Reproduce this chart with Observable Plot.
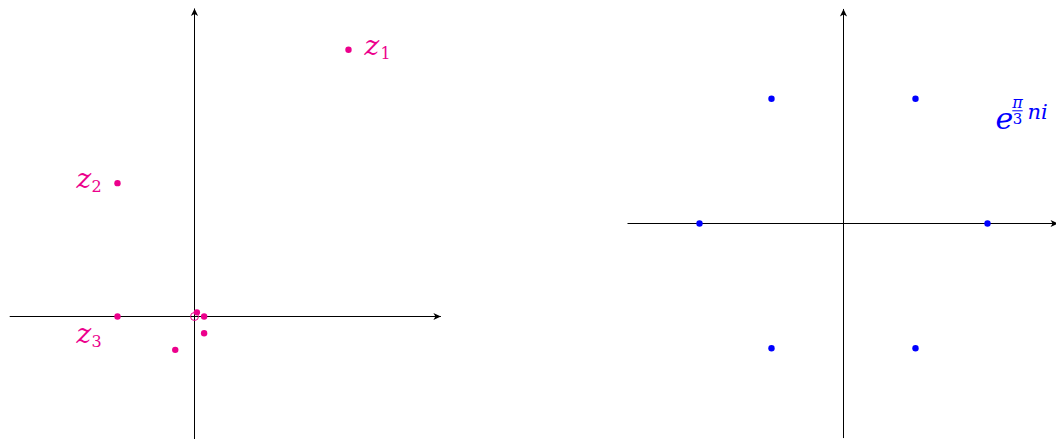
<!DOCTYPE html>
<html>
<head>
<meta charset="utf-8">
<script src="https://cdn.jsdelivr.net/npm/d3@7"></script>
<script src="https://cdn.jsdelivr.net/npm/@observablehq/plot@0.6"></script>
<style>
  html, body { margin: 0; padding: 0; background: #fff; }
  #wrap { display: flex; width: 1056px; height: 439px; overflow: hidden; }
  #wrap svg { display: block; flex: none; }
</style>
</head>
<body>
<div id="wrap"></div>
<script>
// ---- Data: left panel (sequence z_n) ----
const seqNames = ["z1", "z2", "z3", "z4", "z5", "z6", "z7"];
const seqRe = [2, -1, -1, -0.25, 0.125, 0.125, 0.031];
const seqIm = [3.464, 1.732, 0, -0.433, -0.217, 0, 0.054];
const limitRe = [0];
const limitIm = [0];
const leftLabelBase = ["z", "z", "z"];
const leftLabelSub = ["1", "2", "3"];
const leftAxisX = [-2.4, 3.2];
const leftAxisY = [-1.6, 4.0];

// ---- Data: right panel (sixth roots of unity) ----
const rootsRe = [1, 0.5, -0.5, -1, -0.5, 0.5];
const rootsIm = [0, 0.866, 0.866, 0, -0.866, -0.866];
const rightAxisX = [-1.5, 1.49];
const rightAxisY = [-1.49, 1.49];
const rightLabel = { base: "e", num: "π", den: "3", tail: "ni" };

const pink = "#ec008c";
const blue = "#0000ff";
const serif = "'DejaVu Serif', 'Liberation Serif', serif";

const seq = seqRe.map((re, i) => ({ name: seqNames[i], re, im: seqIm[i] }));
const limit = limitRe.map((re, i) => ({ re, im: limitIm[i] }));
const roots = rootsRe.map((re, i) => ({ re, im: rootsIm[i] }));

// custom arrowhead symbols (stealth-like), tip at the anchor
const headRight = { draw(ctx) { ctx.moveTo(0, 0); ctx.lineTo(-7.5, -3.6); ctx.lineTo(-5.5, 0); ctx.lineTo(-7.5, 3.6); ctx.closePath(); } };
const headUp = { draw(ctx) { ctx.moveTo(0, 0); ctx.lineTo(-3.6, 7.5); ctx.lineTo(0, 5.5); ctx.lineTo(3.6, 7.5); ctx.closePath(); } };
// fraction bar symbol
const fracBar = { draw(ctx) { ctx.moveTo(-5.2, 0); ctx.lineTo(5.2, 0); } };

function axes(ax, ay) {
  const rows = [
    { x1: ax[0], y1: 0, x2: ax[1], y2: 0 },
    { x1: 0, y1: ay[0], x2: 0, y2: ay[1] }
  ];
  return [
    Plot.link(rows, { x1: "x1", y1: "y1", x2: "x2", y2: "y2", stroke: "#000", strokeWidth: 1 }),
    Plot.dot([rows[0]], { x: "x2", y: "y2", symbol: headRight, r: 4, fill: "#000", stroke: "none" }),
    Plot.dot([rows[1]], { x: "x2", y: "y2", symbol: headUp, r: 4, fill: "#000", stroke: "none" })
  ];
}

const zBase = { fontSize: 28, fontStyle: "italic", fontFamily: serif, fill: pink, textAnchor: "start" };
const zSub = { fontSize: 16, fontFamily: serif, fill: pink, textAnchor: "start" };

// Left panel: 77 px per unit, origin at (194, 316)
const L = 77;
const left = Plot.plot({
  width: 528, height: 439,
  marginTop: 0, marginRight: 0, marginBottom: 0, marginLeft: 0,
  x: { domain: [-194 / L, 334 / L], axis: null },
  y: { domain: [-(439 - 316) / L, 316 / L], axis: null },
  marks: [
    axes(leftAxisX, leftAxisY),
    Plot.dot(limit, { x: "re", y: "im", r: 4, stroke: pink, strokeWidth: 1, fill: "none" }),
    Plot.dot(seq, { x: "re", y: "im", r: 3.2, fill: pink, stroke: "none" }),
    // z1 right of point
    Plot.text([seq[0]], { x: "re", y: "im", text: () => leftLabelBase[0], dx: 16, dy: -4, ...zBase }),
    Plot.text([seq[0]], { x: "re", y: "im", text: () => leftLabelSub[0], dx: 32, dy: 4, ...zSub }),
    // z2 left of point
    Plot.text([seq[1]], { x: "re", y: "im", text: () => leftLabelBase[1], dx: -41, dy: -4, ...zBase }),
    Plot.text([seq[1]], { x: "re", y: "im", text: () => leftLabelSub[1], dx: -26, dy: 4, ...zSub }),
    // z3 below left
    Plot.text([seq[2]], { x: "re", y: "im", text: () => leftLabelBase[2], dx: -41, dy: 18, ...zBase }),
    Plot.text([seq[2]], { x: "re", y: "im", text: () => leftLabelSub[2], dx: -26, dy: 25, ...zSub })
  ]
});

// Right panel: 144 px per unit, origin at (843-528, 223)
const R = 144;
const ox = 843 - 528;
const anchor = [roots[1]];
const right = Plot.plot({
  width: 528, height: 439,
  marginTop: 0, marginRight: 0, marginBottom: 0, marginLeft: 0,
  x: { domain: [-ox / R, (528 - ox) / R], axis: null },
  y: { domain: [-(439 - 223) / R, 223 / R], axis: null },
  marks: [
    axes(rightAxisX, rightAxisY),
    Plot.dot(roots, { x: "re", y: "im", r: 3.2, fill: blue, stroke: "none" }),
    Plot.text(anchor, { x: "re", y: "im", text: () => rightLabel.base, dx: 80, dy: 21, textAnchor: "start", fontSize: 30, fontStyle: "italic", fontFamily: serif, fill: blue }),
    Plot.text(anchor, { x: "re", y: "im", text: () => rightLabel.num, dx: 102, dy: 4, textAnchor: "middle", fontSize: 16, fontStyle: "italic", fontFamily: serif, fill: blue }),
    Plot.dot(anchor, { x: "re", y: "im", symbol: fracBar, r: 4, dx: 102, dy: 12, stroke: blue, strokeWidth: 1, fill: "none" }),
    Plot.text(anchor, { x: "re", y: "im", text: () => rightLabel.den, dx: 102, dy: 20.5, textAnchor: "middle", fontSize: 15, fontFamily: serif, fill: blue }),
    Plot.text(anchor, { x: "re", y: "im", text: () => rightLabel.tail, dx: 112, dy: 13, textAnchor: "start", fontSize: 21, fontStyle: "italic", fontFamily: serif, fill: blue })
  ]
});

document.getElementById("wrap").append(left, right);
</script>
</body>
</html>
